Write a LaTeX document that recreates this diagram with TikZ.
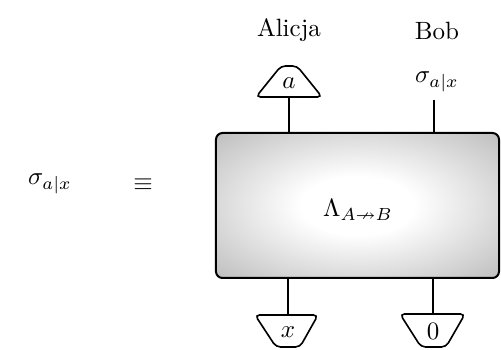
\documentclass[tikz,border=0pt]{standalone}
\usepackage{amssymb}
\pgfdeclareradialshading{boxshade}{\pgfpoint{0bp}{0bp}}{color(0bp)=(white); color(10bp)=(white); color(34bp)=(black!24); color(50bp)=(black!32); color(72bp)=(black!34)}
\tikzset{
  px/.style={x=0.4pt,y=-0.4pt},
  trapline/.style={draw, line width=0.65pt, rounded corners=1.8pt},
  wire/.style={line width=0.5pt},
  lbl/.style={inner sep=0pt},
  bigbox/.style={draw, line width=0.8pt, rounded corners=2.6pt, shading=boxshade, minimum width=113.2pt, minimum height=58pt, inner sep=0pt}
}
\begin{document}
\begin{tikzpicture}[px]
\useasboundingbox (0,0) rectangle (501,350);
\node[bigbox] (box) at (357.5,205.5) {};
\node (lam) at (358,210) {$\Lambda_{A\nrightarrow B}$};
\node (alicja) at (289,30) {Alicja};
\node (bob) at (437,31) {Bob};
% top trapezoid a
\draw[trapline] (256,97) -- (281,66) -- (297,66) -- (322,97) -- cycle;
\node[lbl] (ta) at (289,83) {$a$};
\coordinate (tabase) at (289,97);
\node (sbob) at (437,82) {$\sigma_{a|x}$};
\coordinate (bobtop) at (434,100);
% bottom trapezoids
\draw[trapline] (255,315) -- (318,315) -- (300,347) -- (276,347) -- cycle;
\node[lbl] (tx) at (288,332) {$x$};
\coordinate (txtop) at (288,315);
\draw[trapline] (400,314) -- (465,314) -- (446,347) -- (421,347) -- cycle;
\node[lbl] (t0) at (433,331) {$0$};
\coordinate (t0top) at (433,314);
\node (sleft) at (50,184) {$\sigma_{a|x}$};
\node (equiv) at (143,185) {$\equiv$};
\draw[wire] (tabase) -- (tabase |- box.north);
\draw[wire] (bobtop) -- (bobtop |- box.north);
\draw[wire] (txtop) -- (txtop |- box.south);
\draw[wire] (t0top) -- (t0top |- box.south);
\end{tikzpicture}
\end{document}
